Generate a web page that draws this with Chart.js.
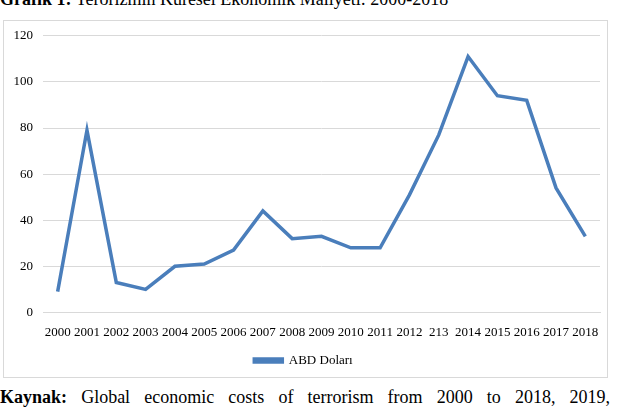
<!DOCTYPE html>
<html>
<head>
<meta charset="utf-8">
<script src="https://cdn.jsdelivr.net/npm/chart.js@4"></script>
<style>
  html, body { margin: 0; padding: 0; background: #fff; }
  body { width: 618px; height: 415px; overflow: hidden; position: relative; font-family: "Liberation Serif", "Times New Roman", serif; }
  #title { position: absolute; left: 0; top: -11px; margin: 0; font-size: 18px; white-space: nowrap; color: #000; }
  #box { position: absolute; left: 3px; top: 20px; width: 603px; height: 356px; border: 1px solid #d9d9d9; }
  #lineChart { position: absolute; left: 0; top: -3px; }
  #source { position: absolute; left: 0; top: 387px; width: 610px; margin: 0; font-size: 18px; text-align: justify; text-align-last: justify; color: #000; }
</style>
</head>
<body>
<p id="title"><b>Grafik 1:</b> Terörizmin Küresel Ekonomik Maliyeti: 2000-2018</p>
<div id="box"><canvas id="lineChart"></canvas></div>
<p id="source"><b>Kaynak:</b> Global economic costs of terrorism from 2000 to 2018, 2019,</p>
<script>
const years = ["2000", "2001", "2002", "2003", "2004", "2005", "2006", "2007", "2008", "2009",
    "2010", "2011", "2012", "213", "2014", "2015", "2016", "2017", "2018"];
const costs = [9, 79, 13, 10, 20, 21, 27, 44, 32, 33, 28, 28, 51, 77, 111, 94, 92, 54, 33];
const yTicks = [0, 20, 40, 60, 80, 100, 120];

const lineChartCtx = document.getElementById("lineChart").getContext("2d");
const blue = "#4a7ebb";
const serif = "'Liberation Serif', 'Times New Roman', serif";

const showCostLineChart = () => {
    new Chart(lineChartCtx, {
        type: "line",
        data: {
            labels: years,
            datasets: [
                {
                    label: "ABD Doları",
                    data: costs,
                    borderColor: blue,
                    backgroundColor: blue,
                    borderWidth: 3.5,
                    pointRadius: 0,
                    tension: 0,
                },
            ],
        },
        options: {
            responsive: false,
            animation: false,
            layout: {
                padding: { left: 3, right: 7, top: 5, bottom: 0 },
            },
            plugins: {
                legend: {
                    position: "bottom",
                    labels: {
                        boxWidth: 28,
                        boxHeight: 3,
                        color: "#000",
                        padding: 10,
                        font: { family: serif, size: 13 },
                    },
                },
                tooltip: { enabled: false },
            },
            scales: {
                x: {
                    offset: true,
                    grid: { display: false },
                    border: { color: "#d9d9d9" },
                    ticks: {
                        color: "#000",
                        maxRotation: 0,
                        autoSkip: false,
                        padding: 4,
                        font: { family: serif, size: 13 },
                    },
                },
                y: {
                    min: 0,
                    max: 120,
                    afterBuildTicks: axis => { axis.ticks = yTicks.map(v => ({ value: v })); },
                    afterFit: axis => { axis.width = 36; },
                    grid: { color: "#d9d9d9", drawTicks: false },
                    border: { display: false },
                    ticks: {
                        color: "#000",
                        padding: 10,
                        font: { family: serif, size: 13 },
                    },
                },
            },
        },
    });
}

lineChartCtx.canvas.width = 603;
lineChartCtx.canvas.height = 359;
showCostLineChart();
</script>
</body>
</html>
